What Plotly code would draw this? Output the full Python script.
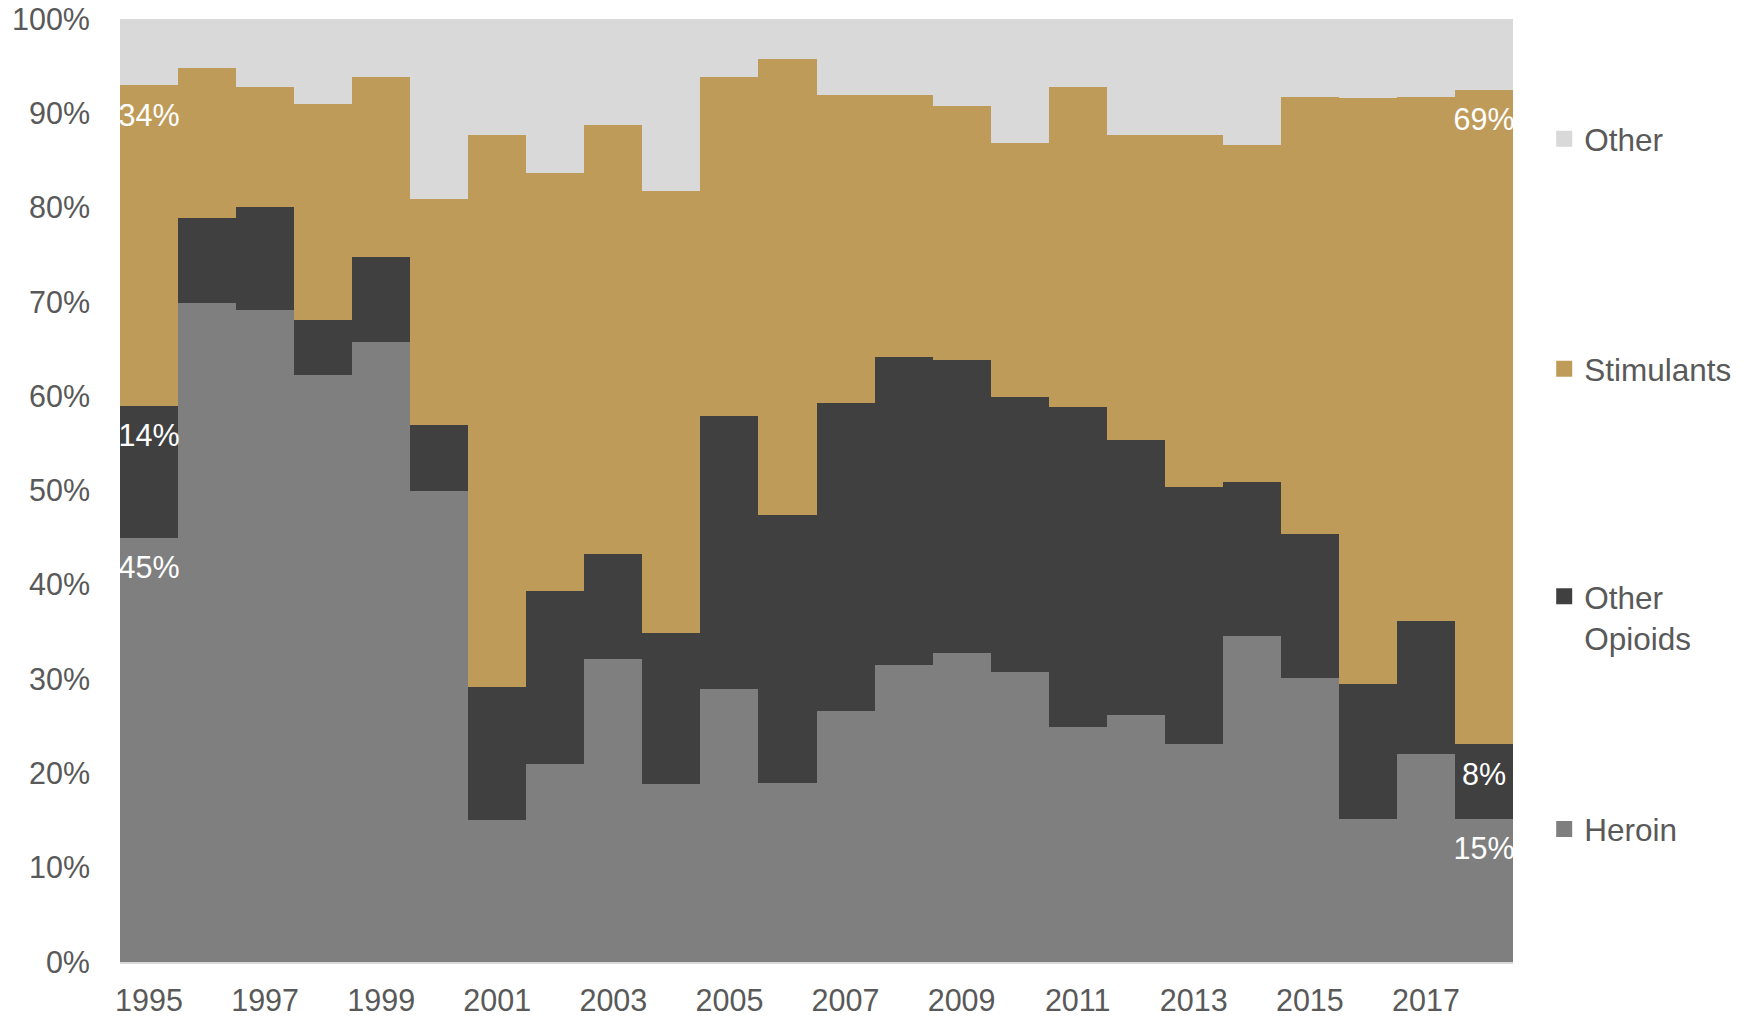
import plotly.graph_objects as go

# Share of treatment admissions by primary substance, 1995-2018 (%)
years = list(range(1995, 2019))

heroin = [45.0, 69.9, 69.1, 62.2, 65.8, 49.9, 15.1, 21.0, 32.1, 18.9, 28.9, 19.0,
          26.6, 31.5, 32.8, 30.8, 24.9, 26.2, 23.1, 34.6, 30.1, 15.2, 22.1, 15.2]
other_opioids = [14.0, 9.0, 11.0, 5.9, 9.0, 7.0, 14.1, 18.3, 11.2, 16.0, 29.0, 28.4,
                 32.7, 32.7, 31.0, 29.1, 34.0, 29.2, 27.3, 16.3, 15.3, 14.3, 14.1, 7.9]
stimulants = [34.0, 15.9, 12.7, 22.9, 19.0, 24.0, 58.5, 44.4, 45.5, 46.9, 35.9, 48.4,
              32.6, 27.7, 27.0, 27.0, 33.9, 32.3, 37.3, 35.7, 46.3, 62.1, 55.5, 69.4]
other = [round(100 - h - o - s, 1) for h, o, s in zip(heroin, other_opioids, stimulants)]

x_ticks = list(range(1995, 2018, 2))
y_ticks = list(range(0, 101, 10))
y_tick_text = [f"{v}%" for v in y_ticks]

FONT = "Liberation Sans, Arial, sans-serif"
TEXT_GREY = "#595959"
TICK_SIZE = 30.5
colors = {
    "Heroin": "#7F7F7F",
    "Other<br>Opioids": "#404040",
    "Stimulants": "#BF9B5A",
    "Other": "#D9D9D9",
}
series = [
    ("Heroin", heroin),
    ("Other<br>Opioids", other_opioids),
    ("Stimulants", stimulants),
    ("Other", other),
]

fig = go.Figure()

for name, vals in series:
    fig.add_trace(go.Bar(
        x=years, y=vals, name=name.replace("<br>", " "),
        marker=dict(color=colors[name], line=dict(width=0)),
        showlegend=False, hoverinfo="x+y+name",
    ))

# value labels for the first and last year, placed just inside the top of each segment
label_drop = 3.5
for idx in (0, len(years) - 1):
    base = 0.0
    for name, vals in series[:3]:
        top = base + vals[idx]
        fig.add_trace(go.Scatter(
            x=[years[idx]], y=[top - label_drop], mode="text",
            text=[f"{vals[idx]:.0f}%"],
            textfont=dict(family=FONT, size=30.5, color="white"),
            cliponaxis=True, showlegend=False, hoverinfo="skip",
        ))
        base = top

# legend entries, one legend per item so they can be spread down the right side
legend_pos = {
    "Other": 0.873,
    "Stimulants": 0.629,
    "Other<br>Opioids": 0.366,
    "Heroin": 0.141,
}
legend_ids = {"Other": "legend", "Stimulants": "legend2",
              "Other<br>Opioids": "legend3", "Heroin": "legend4"}
for name, _ in series:
    fig.add_trace(go.Scatter(
        x=[None], y=[None], mode="markers", name=name,
        marker=dict(symbol="square", size=16, color=colors[name]),
        legend=legend_ids[name], showlegend=True, hoverinfo="skip",
    ))

legend_common = dict(
    x=1.0224, xanchor="left", yanchor="middle",
    font=dict(family=FONT, size=31.5, color=TEXT_GREY),
    bgcolor="rgba(0,0,0,0)", borderwidth=0, itemwidth=30, valign="top",
)
layout_legends = {}
for name, lid in legend_ids.items():
    layout_legends[lid] = dict(legend_common, y=legend_pos[name])

fig.update_layout(
    width=1752, height=1016, autosize=False,
    margin=dict(l=120, r=239, t=19, b=54, autoexpand=False),
    paper_bgcolor="white", plot_bgcolor="white",
    barmode="stack", bargap=0,
    font=dict(family=FONT, size=TICK_SIZE, color=TEXT_GREY),
    xaxis=dict(
        range=[1994.5, 2018.5], tickvals=x_ticks,
        showgrid=False, zeroline=False, showline=True,
        linecolor="#D9D9D9", linewidth=2, ticks="",
        tickfont=dict(family=FONT, size=TICK_SIZE, color=TEXT_GREY),
        ticklabelstandoff=10, automargin=False,
    ),
    yaxis=dict(
        range=[0, 100], tickvals=y_ticks, ticktext=y_tick_text,
        showgrid=False, zeroline=False, showline=False, ticks="",
        tickfont=dict(family=FONT, size=TICK_SIZE, color=TEXT_GREY),
        ticklabelstandoff=29, automargin=False,
    ),
    **layout_legends,
)

fig.write_html("out.html")
